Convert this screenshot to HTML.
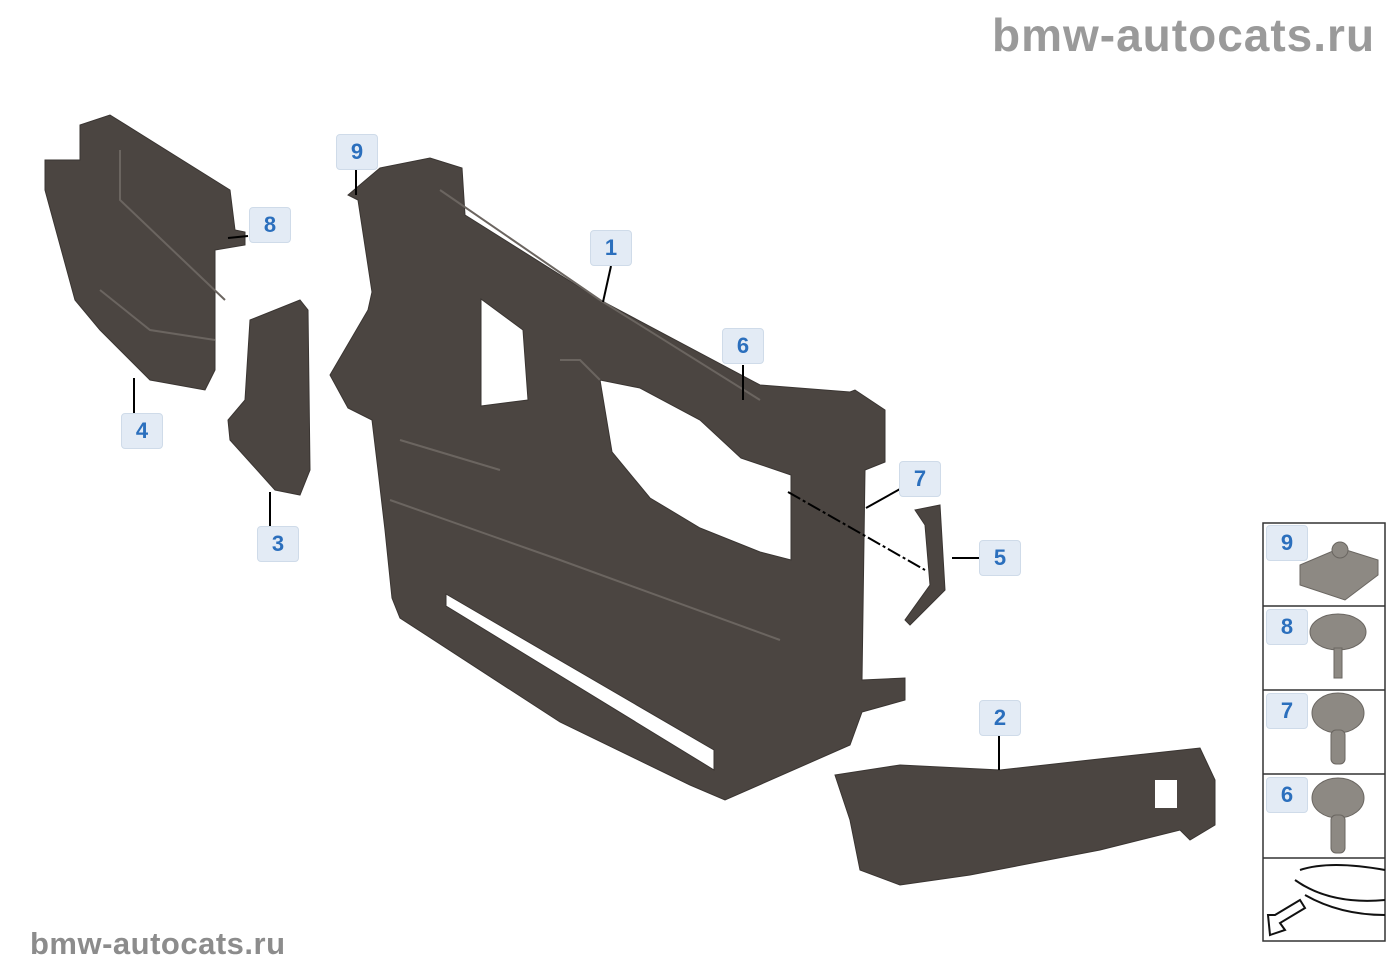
<!DOCTYPE html>
<html><head><meta charset="utf-8"><style>
body{margin:0;width:1400px;height:980px;background:#fff;overflow:hidden;position:relative;font-family:"Liberation Sans",sans-serif}
.wm{position:absolute;color:#9a9a9a;font-weight:bold;white-space:nowrap}
.lb{position:absolute;width:40px;height:34px;background:#e3ebf5;border:1px solid #cfdbe9;border-radius:4px;color:#2b6fbd;font-weight:bold;font-size:22px;text-align:center;line-height:34px}
</style></head><body>
<div class="wm" style="left:992px;top:8px;font-size:46px;letter-spacing:1px">bmw-autocats.ru</div>
<div class="wm" style="left:30px;top:926px;font-size:31px;color:#8c8c8c;letter-spacing:0.5px">bmw-autocats.ru</div>
<svg width="1400" height="980" style="position:absolute;left:0;top:0">
<g fill="#4b4541" stroke="#3a3532" stroke-width="1">
<path fill-rule="evenodd" d="M330,375 L368,310 L372,292 L358,200 L348,195 L380,168 L430,158 L462,168 L465,215 L600,300 L760,385 L850,392 L855,390 L885,410 L885,462 L865,470 L862,680 L905,678 L905,700 L862,712 L850,745 L725,800 L690,785 L560,722 L400,618 L392,598 L385,530 L378,470 L372,420 L348,408 Z
M481,299 L523,330 L528,400 L481,406 Z
M600,380 L640,388 L700,420 L741,458 L791,475 L791,560 L760,552 L700,528 L650,498 L612,452 Z
M446,594 L714,750 L714,770 L446,606 Z"/>
<path d="M45,160 L80,160 L80,125 L110,115 L230,190 L235,230 L245,232 L245,245 L215,250 L215,370 L205,390 L150,380 L100,330 L75,300 L45,190 Z"/>
<path d="M250,320 L300,300 L308,310 L310,470 L300,495 L275,490 L230,440 L228,420 L245,400 Z"/>
<path d="M915,510 L940,505 L945,590 L910,625 L905,620 L930,585 L925,525 Z"/>
<path d="M835,775 L900,765 L1000,770 L1090,760 L1200,748 L1215,780 L1215,825 L1190,840 L1180,830 L1100,850 L970,875 L900,885 L860,870 L850,820 Z"/>
</g>
<rect x="1155" y="780" width="22" height="28" fill="#fff"/>
<g stroke="#6b6560" stroke-width="2" fill="none">
<path d="M120,150 L120,200 L225,300 M100,290 L150,330 L215,340"/>
<path d="M560,360 L580,360 L600,380"/>
<path d="M440,190 L600,300 L760,400 M390,500 L560,560 L780,640 M400,440 L500,470"/>
</g>
<g stroke="#000" stroke-width="2" fill="none">
<line x1="611" y1="266" x2="603" y2="302"/>
<line x1="743" y1="365" x2="743" y2="400"/>
<line x1="356" y1="170" x2="356" y2="195"/>
<line x1="248" y1="236" x2="228" y2="238"/>
<line x1="134" y1="413" x2="134" y2="378"/>
<line x1="270" y1="527" x2="270" y2="492"/>
<line x1="979" y1="558" x2="952" y2="558"/>
<line x1="999" y1="736" x2="999" y2="770"/>
<line x1="900" y1="489" x2="866" y2="508"/>
<line x1="788" y1="492" x2="925" y2="570" stroke-dasharray="14,3,3,3"/>
</g>
<g stroke="#333" stroke-width="1.5" fill="#fff">
<rect x="1263" y="523" width="122" height="418" fill="none"/>
<line x1="1263" y1="606" x2="1385" y2="606"/><line x1="1263" y1="690" x2="1385" y2="690"/>
<line x1="1263" y1="774" x2="1385" y2="774"/><line x1="1263" y1="858" x2="1385" y2="858"/>
</g>
<g fill="#8d8983" stroke="#6a6661">
<path d="M1300,565 L1340,548 L1378,560 L1378,575 L1345,600 L1300,585 Z"/><circle cx="1340" cy="550" r="8"/>
<ellipse cx="1338" cy="632" rx="28" ry="18"/><rect x="1334" y="648" width="8" height="30"/>
<ellipse cx="1338" cy="713" rx="26" ry="20"/><rect x="1331" y="730" width="14" height="34" rx="5"/>
<ellipse cx="1338" cy="798" rx="26" ry="20"/><rect x="1331" y="815" width="14" height="38" rx="5"/>
</g>
<g stroke="#111" stroke-width="2" fill="none">
<path d="M1300,870 Q1330,860 1385,870 M1295,880 Q1330,905 1385,900 M1305,895 Q1340,915 1385,915"/>
<path d="M1275,915 L1300,900 L1305,908 L1280,923 L1285,930 L1270,935 L1268,915 Z"/>
</g>
</svg>
<div class="lb" style="left:590px;top:230px">1</div>
<div class="lb" style="left:979px;top:700px">2</div>
<div class="lb" style="left:257px;top:526px">3</div>
<div class="lb" style="left:121px;top:413px">4</div>
<div class="lb" style="left:979px;top:540px">5</div>
<div class="lb" style="left:722px;top:328px">6</div>
<div class="lb" style="left:899px;top:461px">7</div>
<div class="lb" style="left:249px;top:207px">8</div>
<div class="lb" style="left:336px;top:134px">9</div>
<div class="lb" style="left:1266px;top:525px">9</div>
<div class="lb" style="left:1266px;top:609px">8</div>
<div class="lb" style="left:1266px;top:693px">7</div>
<div class="lb" style="left:1266px;top:777px">6</div>
</body></html>
